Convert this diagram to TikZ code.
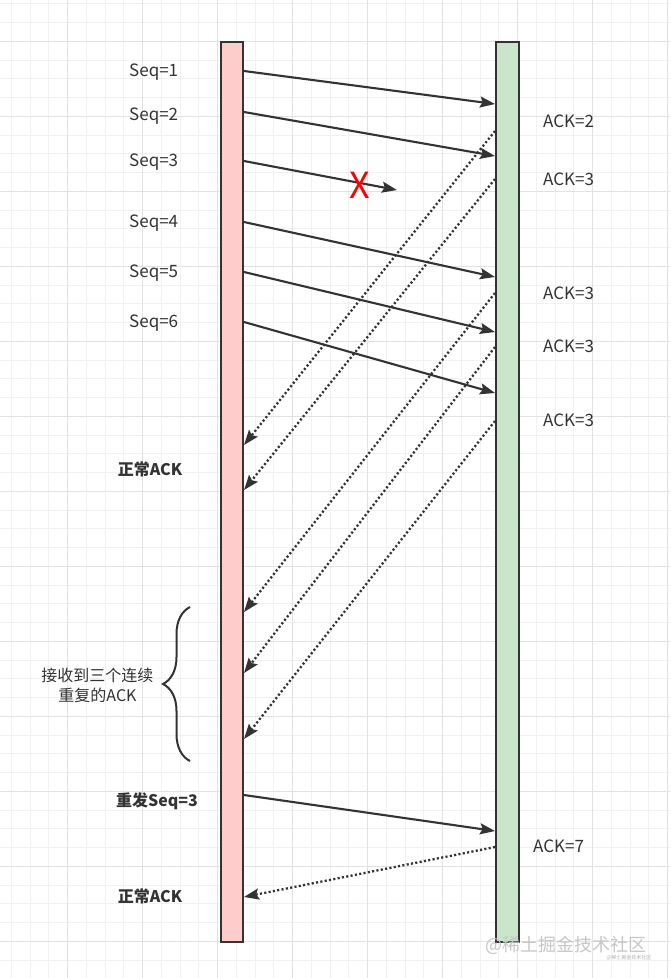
\documentclass[tikz,border=0pt]{standalone}
\usepackage{fontspec}
\setmainfont{Noto Sans CJK SC}
\usetikzlibrary{arrows.meta,decorations.pathreplacing}
\definecolor{edge}{HTML}{333333}
\definecolor{pinkbar}{HTML}{FFCCCC}
\definecolor{greenbar}{HTML}{C9E6CA}
\definecolor{gridmin}{HTML}{F1F1F1}
\definecolor{gridmaj}{HTML}{E2E2E2}

\begin{document}
\begin{tikzpicture}[x=1pt,y=-1pt,
  bar/.style={draw=edge,line width=2.2pt,minimum width=22.3pt,minimum height=899.7pt,inner sep=0pt},
  msg/.style={draw=edge,line width=2.1pt,-{Stealth[length=15pt,width=11pt,inset=2.5pt]}},
  ack/.style={msg,dash pattern=on 2.1pt off 2.3pt,line width=2.3pt},
  lbl/.style={font=\fontsize{17}{21}\selectfont,text=edge,inner sep=0pt},
  cjklbl/.style={font=\fontsize{16}{20}\selectfont,text=edge,inner sep=0pt},
  boldlbl/.style={cjklbl,font=\fontsize{16}{20}\selectfont\bfseries}]
\useasboundingbox (0,0) rectangle (670,978);
\fill[white] (0,0) rectangle (670,978);

\foreach \i in {0,...,35} \draw[gridmin,line width=1pt] ({11.45+\i*18.75},0) -- ({11.45+\i*18.75},978);
\foreach \j in {0,...,51} \draw[gridmin,line width=1pt] (0,{3.8+\j*18.75}) -- (670,{3.8+\j*18.75});
\foreach \i in {0,...,8} \draw[gridmaj,line width=1pt] ({67.7+\i*75},0) -- ({67.7+\i*75},978);
\foreach \j in {0,...,12} \draw[gridmaj,line width=1pt] (0,{41.3+\j*75}) -- (670,{41.3+\j*75});

\node[bar,fill=pinkbar] (sender) at (232.15,491.85) {};
\node[bar,fill=greenbar] (receiver) at (507.5,491.85) {};

\foreach \n/\ya/\yb in {1/71/104,2/112/156,4/222/277,5/272/332,6/322/393,7/795/831} {
  \coordinate (s\n) at (244,\ya);
  \coordinate (r\n) at (495,\yb);
  \draw[msg] (s\n) -- (r\n);
}
\coordinate (s3) at (244,161);
\coordinate (drop) at (397,190);
\draw[msg] (s3) -- (drop);
\node[text=red,inner sep=0pt,font=\fontsize{36}{40}\selectfont] (lost) at (360,185) {X};

\foreach \n/\ya/\yb in {2/131/445,3/179/490,4/293/612,5/347/673,6/421/739,7/847/897} {
  \coordinate (ra\n) at (495,\ya);
  \coordinate (sa\n) at (244,\yb);
  \draw[ack] (ra\n) -- (sa\n);
}

\foreach \n/\y in {1/72,2/116,3/162,4/223,5/273,6/323}
  \node[lbl,anchor=west] (seq\n) at (129,\y) {Seq=\n};

\foreach \n/\v/\y in {2/2/121.7,3/3/179.3,4/3/293.3,5/3/346.7,6/3/420}
  \node[lbl,anchor=west] (ack\n) at (543,\y) {ACK=\v};
\node[lbl,anchor=west] (ack7) at (533,846) {ACK=7};

\node[boldlbl] (normal1) at (150,469) {正常ACK};
\node[boldlbl] (resend) at (157,801.5) {重发Seq=3};
\node[boldlbl] (normal2) at (150,896) {正常ACK};

\draw[edge,line width=2pt,decorate,decoration={brace,amplitude=27pt}] (190,761) -- (190,607);
\node[cjklbl,align=center] (dup) at (97.5,685) {接收到三个连续\\重复的ACK};

\node[text=gray!45,inner sep=0pt,font=\fontsize{18}{20}\selectfont] (wm) at (566,945) {@稀土掘金技术社区};
\node[text=gray!60,inner sep=0pt,font=\fontsize{5}{6}\selectfont] (wmsmall) at (629,958) {@稀土掘金技术社区};
\end{tikzpicture}
\end{document}
